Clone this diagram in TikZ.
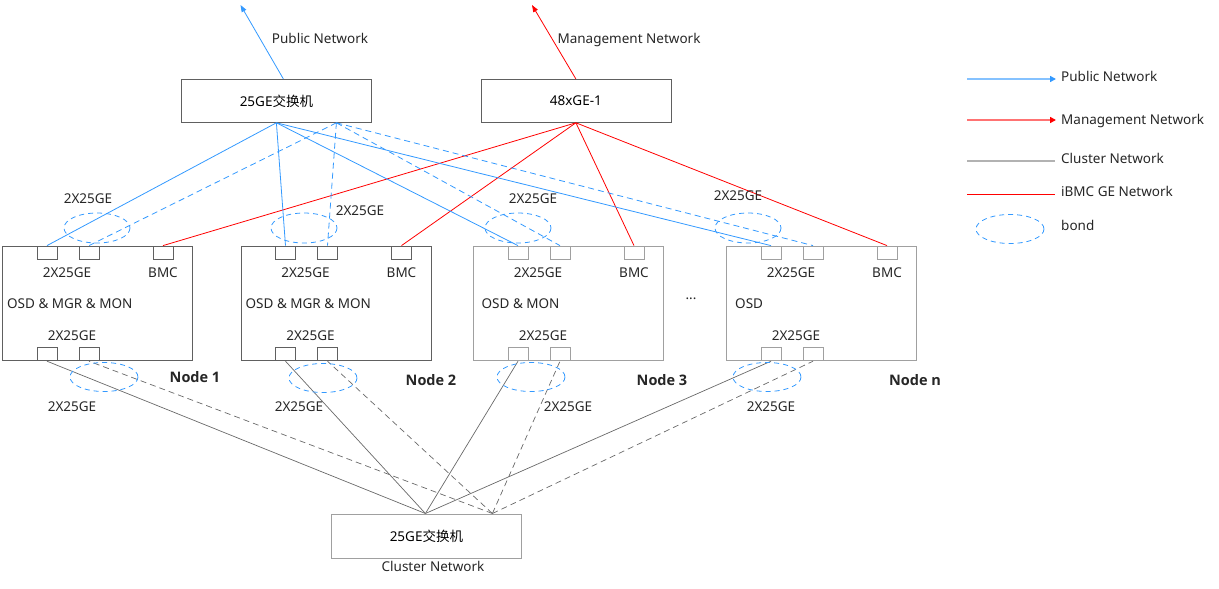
\documentclass[tikz,border=0pt]{standalone}
\usepackage{fontspec}
\setmainfont{Noto Sans}
\newfontfamily\cjk{Noto Sans CJK SC}
\newfontfamily\boldsans{Open Sans}
\usetikzlibrary{arrows.meta}

\definecolor{pubblue}{RGB}{51,153,255}
\definecolor{mgmtred}{RGB}{255,0,0}
\definecolor{clgray}{RGB}{105,105,105}
\definecolor{boxgray}{RGB}{96,96,96}
\definecolor{lightbox}{RGB}{160,160,160}

\tikzset{
  switch/.style={draw=boxgray, line width=0.8pt, minimum width=190pt, minimum height=43pt, inner sep=0pt, anchor=north west},
  server/.style={draw=boxgray, line width=0.8pt, minimum width=190pt, minimum height=114pt, inner sep=0pt, anchor=north west},
  port/.style={draw=boxgray, line width=0.8pt, minimum width=20pt, minimum height=13pt, inner sep=0pt},
  lbl/.style={inner sep=0pt, text depth=0pt, text=black!85},
  nodelbl/.style={font=\boldsans\bfseries\fontsize{14.5}{17}\selectfont, inner sep=0pt, text=black!85},
  publine/.style={pubblue, line width=0.8pt},
  pubbond/.style={pubblue, line width=0.8pt, dash pattern=on 6pt off 4pt},
  bmcline/.style={mgmtred, line width=0.8pt},
  clline/.style={clgray, line width=0.7pt},
  clbond/.style={clgray, line width=0.7pt, dash pattern=on 6pt off 4pt},
  bond/.style={pubblue, line width=0.8pt, dash pattern=on 5pt off 4pt},
}

\begin{document}
\begin{tikzpicture}[x=1pt,y=1pt,yscale=-1,xscale=1, font=\fontsize{13.5}{16}\selectfont]
  \useasboundingbox (0,0) rectangle (1219,589);

  % switches
  \node[switch] (pubsw) at (181,79) {25GE{\cjk 交换机}};
  \node[switch] (mgmtsw) at (480.5,79) {48xGE-1};
  \node[switch, draw=lightbox, minimum height=44pt] (clsw) at (331,513.5) {25GE{\cjk 交换机}};
  \node[lbl] (cllbl) at (433,566) {Cluster Network};

  % uplinks
  \coordinate (pubout) at (240.5,5);
  \coordinate (mgmtout) at (532,5);
  \draw[publine, -{Triangle[length=7pt,width=5pt]}] ([xshift=7pt]pubsw.north) -- (pubout);
  \draw[bmcline, -{Triangle[length=7pt,width=5pt]}] (mgmtsw.north) -- (mgmtout);
  \node[lbl] (publbl) at (320,38) {Public Network};
  \node[lbl] (mgmtlbl) at (629,38) {Management Network};

  % servers (yshift follows yscale=-1: positive is down)
  \foreach \i/\x/\role/\rx/\col in {1/2/{OSD \& MGR \& MON}/5/boxgray, 2/240.5/{OSD \& MGR \& MON}/5/boxgray, 3/473/{OSD \& MON}/8.5/lightbox, n/726/OSD/9/lightbox}{
    \node[server, draw=\col] (n\i) at (\x,246) {};
    \node[port, draw=\col] (n\i-pa) at ([xshift=45pt,yshift=6.5pt]n\i.north west) {};
    \node[port, draw=\col] (n\i-pb) at ([xshift=87pt,yshift=6.5pt]n\i.north west) {};
    \node[port, draw=\col] (n\i-bmc) at ([xshift=161pt,yshift=6.5pt]n\i.north west) {};
    \node[port, draw=\col] (n\i-ca) at ([xshift=45pt,yshift=-6.5pt]n\i.south west) {};
    \node[port, draw=\col] (n\i-cb) at ([xshift=87pt,yshift=-6.5pt]n\i.south west) {};
    \node[lbl] (n\i-top) at ([xshift=65pt,yshift=27pt]n\i.north west) {2X25GE};
    \node[lbl] (n\i-bmclbl) at ([xshift=161pt,yshift=27pt]n\i.north west) {BMC};
    \node[lbl, anchor=west] (n\i-role) at ([xshift=\rx pt,yshift=58pt]n\i.north west) {\role};
    \node[lbl] (n\i-bot) at ([xshift=70pt,yshift=90pt]n\i.north west) {2X25GE};
  }
  \node[nodelbl] (n1lbl) at (195,377) {Node 1};
  \node[nodelbl] (n2lbl) at (431,380) {Node 2};
  \node[nodelbl] (n3lbl) at (662,380) {Node 3};
  \node[nodelbl] (nnlbl) at (915,380) {Node n};
  \node[lbl] (dots) at (691,299) {...};

  % links
  \coordinate (pubA) at (pubsw.south);
  \coordinate (pubB) at ([xshift=60pt]pubsw.south);
  \coordinate (clA) at ([xshift=-1pt]clsw.north);
  \coordinate (clB) at ([xshift=66pt]clsw.north);
  \foreach \i in {1,2,3,n}{
    \draw[publine] (pubA) -- (n\i-pa.north);
    \draw[pubbond] (pubB) -- (n\i-pb.north);
    \draw[bmcline] (mgmtsw.south) -- (n\i-bmc.north);
    \draw[clline] (clA) -- (n\i-ca.south);
    \draw[clbond] (clB) -- (n\i-cb.south);
  }

  % bonds
  \draw[bond] (97,228) ellipse [x radius=33, y radius=15];
  \draw[bond] (304,228) ellipse [x radius=33, y radius=15];
  \draw[bond] (518,228) ellipse [x radius=33, y radius=15];
  \draw[bond] (748,228) ellipse [x radius=33, y radius=15];
  \draw[bond] (104,377) ellipse [x radius=34, y radius=14.5];
  \draw[bond] (323,378) ellipse [x radius=34, y radius=14.5];
  \draw[bond] (531,377) ellipse [x radius=34, y radius=14.5];
  \draw[bond] (767,377) ellipse [x radius=34, y radius=14.5];
  \node[lbl] (b1t) at (88,199) {2X25GE};
  \node[lbl] (b2t) at (360,211) {2X25GE};
  \node[lbl] (b3t) at (533,199) {2X25GE};
  \node[lbl] (bnt) at (738,196) {2X25GE};
  \node[lbl] (b1b) at (72,407) {2X25GE};
  \node[lbl] (b2b) at (299,407) {2X25GE};
  \node[lbl] (b3b) at (568,407) {2X25GE};
  \node[lbl] (bnb) at (771,407) {2X25GE};

  % legend
  \coordinate (lg1a) at (967,79);   \coordinate (lg1b) at (1056,79);
  \coordinate (lg2a) at (967,120);  \coordinate (lg2b) at (1056,120);
  \coordinate (lg3a) at (967,161);  \coordinate (lg3b) at (1055,161);
  \coordinate (lg4a) at (967,194);  \coordinate (lg4b) at (1055,194);
  \draw[pubblue!60, line width=1.5pt, -{Triangle[length=6pt,width=6pt,color=pubblue]}] (lg1a) -- (lg1b);
  \draw[mgmtred!55, line width=1.5pt, -{Triangle[length=6pt,width=6pt,color=mgmtred]}] (lg2a) -- (lg2b);
  \draw[black!30, line width=1.5pt] (lg3a) -- (lg3b);
  \draw[mgmtred, line width=0.9pt] (lg4a) -- (lg4b);
  \draw[bond] (1010,229) ellipse [x radius=34, y radius=14.5];
  \node[lbl, anchor=west] (lgpub) at (1061,76) {Public Network};
  \node[lbl, anchor=west] (lgmgmt) at (1061,119) {Management Network};
  \node[lbl, anchor=west] (lgcl) at (1061,158) {Cluster Network};
  \node[lbl, anchor=west] (lgbmc) at (1061,191) {iBMC GE Network};
  \node[lbl, anchor=west] (lgbond) at (1061,225) {bond};
\end{tikzpicture}
\end{document}
